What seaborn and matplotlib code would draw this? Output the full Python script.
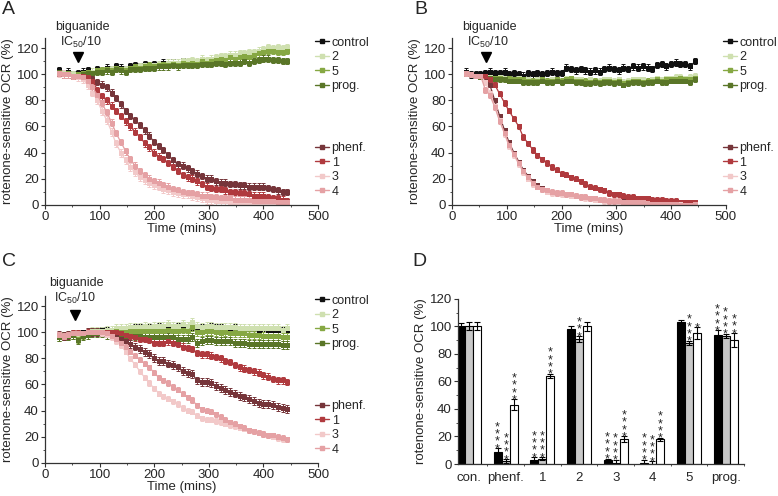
import numpy as np
import pandas as pd
import seaborn as sns
import matplotlib.pyplot as plt
from matplotlib.lines import Line2D
from matplotlib.ticker import MultipleLocator, FixedLocator
from matplotlib.transforms import offset_copy


TIME = [26, 35, 43, 52, 61, 69, 78, 87, 96, 104, 113, 122, 130, 139, 148, 156, 165, 174, 183, 191,
        200, 209, 217, 226, 235, 243, 252, 261, 270, 278, 287, 296, 304, 313, 322, 330, 339, 348, 357, 365,
        374, 383, 391, 400, 409, 417, 426, 435, 444]

SERIES = ['control', '2', '5', 'prog.', 'phenf.', '1', '3', '4']
COLORS = ['#111111', '#cfe0b0', '#86a843', '#5a7628', '#76353a', '#b03a3e', '#f2c9c9', '#e5a1a4']

# panel A
A_CONTROL = [103, 101, 102, 100, 101, 102, 103, 101, 104, 103, 105, 104, 106, 105, 104, 106, 107, 106, 108, 107,
             108, 107, 109, 108, 109, 108, 110, 109, 110, 109, 111, 110, 111, 112, 113, 112, 114, 113, 114, 115,
             114, 116, 117, 118, 120, 119, 119, 118, 119]
A_2 = [102, 101, 101, 100, 100, 101, 102, 102, 103, 103, 104, 104, 105, 104, 104, 105, 106, 106, 107, 107,
       107, 108, 108, 109, 109, 109, 110, 110, 111, 110, 112, 111, 112, 113, 114, 114, 115, 115, 116, 116,
       117, 117, 118, 119, 121, 120, 121, 120, 121]
A_5 = [102, 100, 101, 99, 100, 101, 102, 101, 103, 103, 104, 103, 105, 104, 103, 105, 106, 105, 106, 107,
       106, 107, 108, 107, 108, 107, 109, 108, 109, 108, 110, 109, 110, 111, 112, 111, 113, 112, 113, 114,
       113, 115, 116, 117, 118, 118, 117, 117, 118]
A_PROG = [102, 100, 100, 99, 99, 100, 101, 101, 102, 102, 103, 102, 104, 103, 102, 104, 104, 104, 105, 105,
          105, 106, 106, 106, 107, 106, 107, 107, 107, 107, 108, 108, 108, 109, 109, 108, 109, 109, 109, 110,
          109, 110, 111, 112, 112, 111, 111, 110, 110]
A_PHENF = [101, 100, 100, 99, 99, 98, 98, 96, 94, 92, 90, 86, 82, 77, 72, 68, 65, 61, 57, 53,
           48, 45, 42, 38, 34, 31, 30, 28, 26, 24, 22, 20, 20, 18, 17, 17, 16, 16, 15, 15,
           14, 14, 14, 14, 13, 12, 11, 10, 10]
A_1 = [101, 100, 100, 99, 99, 99, 98, 95, 88, 83, 80, 76, 72, 68, 64, 60, 56, 52, 47, 44,
       40, 37, 35, 32, 29, 26, 23, 21, 20, 18, 16, 14, 13, 12, 12, 11, 10, 10, 9, 9,
       8, 7, 7, 7, 6, 5, 5, 4, 3]
A_3 = [101, 100, 100, 99, 98, 96, 92, 86, 80, 72, 65, 56, 47, 40, 34, 29, 25, 21, 19, 17,
       15, 14, 12, 11, 10, 9, 8, 8, 7, 6, 5, 4, 4, 3, 3, 3, 2, 2, 2, 2,
       2, 2, 1, 1, 2, 1, 1, 1, 1]
A_4 = [101, 100, 100, 99, 99, 98, 95, 90, 84, 78, 71, 63, 55, 48, 41, 35, 30, 26, 23, 20,
       18, 17, 15, 14, 12, 11, 10, 9, 9, 8, 7, 7, 6, 6, 5, 5, 5, 4, 4, 4,
       4, 3, 3, 3, 3, 3, 2, 2, 2]
A_ERR = [2.5, 2.5, 2.5, 2.5, 2.5, 2.5, 3, 2.5]

# panel B
B_CONTROL = [102, 100, 100, 100, 101, 102, 101, 101, 102, 100, 101, 100, 99, 101, 100, 101, 100, 101, 102, 101,
             101, 105, 104, 103, 104, 103, 102, 103, 102, 104, 105, 104, 103, 105, 104, 106, 105, 106, 105, 104,
             107, 108, 106, 108, 109, 108, 108, 106, 110]
B_2 = [101, 100, 99, 99, 98, 98, 97, 98, 97, 97, 96, 97, 96, 96, 95, 96, 96, 95, 96, 96,
       95, 97, 97, 96, 96, 95, 96, 95, 95, 96, 96, 95, 96, 94, 95, 96, 96, 96, 95, 96,
       97, 96, 97, 97, 98, 98, 97, 98, 99]
B_5 = [101, 100, 99, 99, 98, 97, 97, 97, 96, 97, 96, 96, 96, 95, 95, 95, 96, 95, 95, 96,
       95, 96, 97, 95, 95, 95, 94, 95, 94, 95, 95, 94, 95, 93, 94, 95, 95, 94, 95, 95,
       96, 95, 96, 96, 96, 97, 96, 96, 97]
B_PROG = [101, 100, 99, 98, 98, 97, 96, 96, 96, 95, 95, 95, 94, 94, 94, 94, 95, 94, 94, 95,
          94, 95, 95, 94, 94, 93, 93, 94, 93, 94, 94, 93, 94, 92, 93, 94, 94, 93, 94, 94,
          95, 94, 94, 95, 95, 95, 95, 94, 96]
B_PHENF = [101, 100, 99, 99, 97, 92, 80, 68, 57, 48, 40, 33, 27, 22, 18, 15, 13, 11, 10, 9,
           9, 8, 8, 7, 6, 5, 5, 4, 4, 3, 3, 3, 2, 3, 2, 2, 2, 1, 1, 1,
           1, 1, 1, 1, 1, 1, 0, 0, 0]
B_1 = [101, 100, 99, 99, 99, 96, 92, 85, 78, 72, 66, 60, 52, 47, 42, 38, 35, 32, 29, 27,
       24, 23, 21, 20, 18, 16, 14, 13, 12, 11, 9, 8, 8, 7, 6, 6, 5, 5, 5, 4,
       4, 4, 3, 3, 3, 2, 2, 2, 2]
B_3 = [101, 100, 99, 99, 94, 86, 76, 65, 54, 45, 38, 31, 25, 20, 16, 14, 12, 10, 9, 9,
       8, 8, 7, 7, 6, 5, 5, 4, 4, 3, 3, 3, 2, 2, 2, 2, 1, 1, 1, 1,
       1, 1, 1, 1, 1, 1, 0, 0, 1]
B_4 = [101, 100, 99, 99, 88, 84, 75, 64, 55, 46, 39, 32, 26, 21, 17, 14, 12, 11, 10, 9,
       9, 8, 8, 7, 6, 6, 5, 5, 4, 4, 3, 3, 3, 2, 2, 2, 2, 2, 1, 1,
       1, 1, 1, 1, 1, 0, 0, 0, 1]
B_ERR = [2.5, 2, 2, 2, 1.5, 2, 2, 2]

# panel C
C_CONTROL = [97, 97, 98, 99, 99, 100, 100, 101, 101, 102, 102, 101, 102, 103, 103, 103, 104, 104, 104, 104,
             104, 105, 104, 104, 104, 105, 105, 104, 104, 103, 104, 104, 105, 104, 104, 103, 103, 104, 103, 103,
             103, 103, 102, 103, 102, 102, 102, 102, 102]
C_2 = [96, 97, 98, 98, 97, 99, 100, 101, 101, 101, 102, 102, 103, 103, 103, 104, 104, 104, 105, 104,
       105, 105, 105, 106, 105, 105, 106, 105, 108, 105, 104, 105, 105, 104, 104, 104, 104, 104, 103, 103,
       103, 103, 103, 103, 103, 103, 103, 102, 103]
C_5 = [96, 97, 97, 98, 95, 98, 99, 100, 100, 100, 100, 100, 101, 100, 100, 101, 101, 101, 101, 101,
       101, 101, 101, 102, 101, 101, 102, 101, 104, 100, 100, 101, 101, 100, 99, 100, 99, 99, 99, 99,
       98, 98, 98, 97, 97, 97, 97, 96, 96]
C_PROG = [96, 97, 97, 98, 94, 97, 98, 99, 99, 99, 98, 98, 98, 98, 97, 97, 97, 97, 96, 96,
          96, 96, 96, 96, 96, 95, 95, 95, 96, 92, 93, 94, 94, 93, 93, 93, 93, 92, 92, 92,
          91, 91, 91, 91, 91, 91, 91, 90, 90]
C_PHENF = [98, 97, 98, 99, 99, 99, 100, 100, 100, 100, 99, 98, 97, 95, 93, 91, 89, 87, 85, 83,
           80, 78, 78, 76, 75, 73, 70, 69, 68, 63, 62, 62, 61, 59, 57, 56, 54, 53, 51, 50,
           49, 47, 46, 45, 45, 44, 43, 42, 41]
C_1 = [98, 97, 98, 99, 99, 99, 100, 100, 100, 100, 100, 100, 100, 99, 98, 97, 96, 95, 95, 94,
       92, 92, 92, 93, 92, 91, 89, 88, 87, 84, 83, 83, 82, 81, 80, 78, 77, 75, 73, 72,
       71, 70, 69, 67, 66, 64, 63, 63, 62]
C_3 = [98, 97, 98, 99, 99, 99, 100, 100, 100, 99, 98, 96, 93, 90, 85, 80, 75, 70, 65, 61,
       57, 53, 51, 49, 47, 45, 42, 40, 39, 36, 34, 33, 33, 32, 31, 30, 29, 28, 27, 26,
       25, 24, 23, 22, 21, 20, 19, 18, 18]
C_4 = [98, 97, 98, 99, 99, 99, 100, 100, 100, 100, 99, 97, 95, 92, 89, 85, 82, 79, 76, 73,
       69, 65, 63, 61, 58, 56, 53, 50, 48, 44, 41, 40, 39, 37, 35, 33, 31, 30, 28, 27,
       25, 24, 23, 22, 21, 21, 20, 19, 18]
C_ERR = [2, 3, 3, 3, 3, 2.5, 2, 2]

# panel D
BAR_GROUPS = ['con.', 'phenf.', '1', '2', '3', '4', '5', 'prog.']
BAR_BLACK = [100, 9, 3, 98, 3, 1, 103, 94]
BAR_GREY = [100, 2, 4, 91, 1, 0, 88, 93]
BAR_WHITE = [100, 43, 64, 100, 18, 18, 95, 90]
ERR_BLACK = [2.5, 2.5, 2, 2, 1, 2, 1.5, 3]
ERR_GREY = [3, 1.5, 1, 2, 2, 2, 1.5, 1.5]
ERR_WHITE = [3, 4, 1.5, 3.5, 2, 1, 4.5, 5]
STARS_BLACK = [0, 4, 4, 0, 4, 4, 0, 4]
STARS_GREY = [0, 4, 4, 3, 4, 4, 4, 4]
STARS_WHITE = [0, 4, 4, 0, 4, 4, 1, 3]


sns.set_style('ticks')
plt.rcParams['font.family'] = ['Liberation Sans', 'DejaVu Sans']
plt.rcParams['mathtext.default'] = 'regular'
plt.rcParams['axes.linewidth'] = 0.9
plt.rcParams['axes.edgecolor'] = '#333333'

FS = 9
FS_TICK = 9.5
palette = dict(zip(SERIES, COLORS))


def style_axis(ax):
    sns.despine(ax=ax)
    ax.tick_params(which='major', length=3, width=0.8, labelsize=FS_TICK, pad=1.5, color='#333333')
    ax.tick_params(which='minor', length=1.5, width=0.6, color='#333333')


def draw_timecourse(ax, values, errs, text_x, text_y, arrow_x):
    df = pd.DataFrame({
        'time': np.tile(TIME, len(SERIES)),
        'ocr': np.concatenate(values),
        'compound': np.repeat(SERIES, len(TIME)),
    })
    for name, err in zip(SERIES, errs):
        sub = df[df['compound'] == name]
        ax.errorbar(sub['time'], sub['ocr'], yerr=err, fmt='none', ecolor=palette[name],
                    elinewidth=0.7, capsize=1.4, capthick=0.7)
    sns.lineplot(data=df, x='time', y='ocr', hue='compound', hue_order=SERIES, palette=palette,
                 marker='s', markersize=3.6, markeredgewidth=0, linewidth=0.9,
                 errorbar=None, legend=False, ax=ax)

    ax.set_xlim(0, 500)
    ax.set_ylim(0, 128)
    ax.set_yticks([0, 20, 40, 60, 80, 100, 120])
    ax.set_xticks([0, 100, 200, 300, 400, 500])
    ax.xaxis.set_minor_locator(MultipleLocator(50))
    ax.yaxis.set_minor_locator(MultipleLocator(10))
    ax.set_xlabel('Time (mins)', fontsize=FS_TICK, labelpad=0)
    ax.set_ylabel('rotenone-sensitive OCR (%)', fontsize=FS_TICK, labelpad=2)
    style_axis(ax)

    ax.text(text_x, text_y, 'biguanide', fontsize=FS, ha='center', va='center', clip_on=False)
    ax.text(text_x - 3, text_y - 12, r'IC$_{50}$/10', fontsize=FS, ha='center', va='center', clip_on=False)
    ax.plot([arrow_x], [113], marker='v', color='black', markersize=7, clip_on=False)

    handles = [Line2D([], [], color=palette[n], marker='s', markersize=3, lw=1) for n in SERIES]
    opts = dict(loc='upper left', frameon=False, fontsize=FS, handlelength=1.1, handletextpad=0.2,
                labelspacing=0.2, borderpad=0, borderaxespad=0)
    top = ax.legend(handles[:4], SERIES[:4], bbox_to_anchor=(0.99, 1.005), **opts)
    ax.add_artist(top)
    ax.legend(handles[4:], SERIES[4:], bbox_to_anchor=(0.99, 0.375), **opts)


fig = plt.figure(figsize=(7.78, 4.96), dpi=100)

ax_a = fig.add_axes([0.0578, 0.587, 0.351, 0.337])
ax_b = fig.add_axes([0.581, 0.587, 0.352, 0.337])
ax_c = fig.add_axes([0.0578, 0.067, 0.351, 0.337])
ax_d = fig.add_axes([0.5887, 0.0645, 0.3676, 0.333])

draw_timecourse(ax_a, [A_CONTROL, A_2, A_5, A_PROG, A_PHENF, A_1, A_3, A_4], A_ERR, 68, 136, 60)
draw_timecourse(ax_b, [B_CONTROL, B_2, B_5, B_PROG, B_PHENF, B_1, B_3, B_4], B_ERR, 69, 136, 62)
draw_timecourse(ax_c, [C_CONTROL, C_2, C_5, C_PROG, C_PHENF, C_1, C_3, C_4], C_ERR, 58, 138, 55)

# panel D bars
conds = ['black', 'grey', 'white']
df_bar = pd.DataFrame({
    'group': BAR_GROUPS * 3,
    'cond': np.repeat(conds, len(BAR_GROUPS)),
    'value': BAR_BLACK + BAR_GREY + BAR_WHITE,
})
sns.barplot(data=df_bar, x='group', y='value', hue='cond', hue_order=conds,
            palette=['black', '#c8c8c8', 'white'], width=0.66, gap=0, edgecolor='black',
            linewidth=0.8, errorbar=None, legend=False, ax=ax_d)

# stacked asterisks above the error bars
star_trans = offset_copy(ax_d.transData, fig=fig, x=0, y=-5, units='points')
errs = [ERR_BLACK, ERR_GREY, ERR_WHITE]
vals = [BAR_BLACK, BAR_GREY, BAR_WHITE]
stars = [STARS_BLACK, STARS_GREY, STARS_WHITE]
for container, err, val, star in zip(ax_d.containers, errs, vals, stars):
    xs = [p.get_x() + p.get_width() / 2 for p in container.patches]
    ax_d.errorbar(xs, val, yerr=err, fmt='none', ecolor='black', elinewidth=0.8, capsize=2, capthick=0.8)
    for x, v, e, s in zip(xs, val, err, star):
        if s:
            ax_d.text(x, v + e, '\n'.join('*' * s), fontsize=9, linespacing=0.48,
                      ha='center', va='bottom', transform=star_trans)

ax_d.set_xlim(-0.3, 7.5)
ax_d.set_ylim(0, 120)
ax_d.set_yticks([0, 20, 40, 60, 80, 100, 120])
ax_d.yaxis.set_minor_locator(MultipleLocator(10))
ax_d.xaxis.set_minor_locator(FixedLocator([0.5, 1.5, 2.5, 3.5, 4.5, 5.5, 6.5, 7.5]))
ax_d.set_xlabel('')
ax_d.set_ylabel('rotenone-sensitive OCR (%)', fontsize=FS_TICK, labelpad=2)
style_axis(ax_d)
ax_d.tick_params(axis='x', which='major', length=0, pad=6)

for letter, x, y in [('A', 0.003, 0.997), ('B', 0.532, 0.997), ('C', 0.003, 0.49), ('D', 0.530, 0.49)]:
    fig.text(x, y, letter, fontsize=14, ha='left', va='top')

fig.savefig('out.png', dpi=100)
